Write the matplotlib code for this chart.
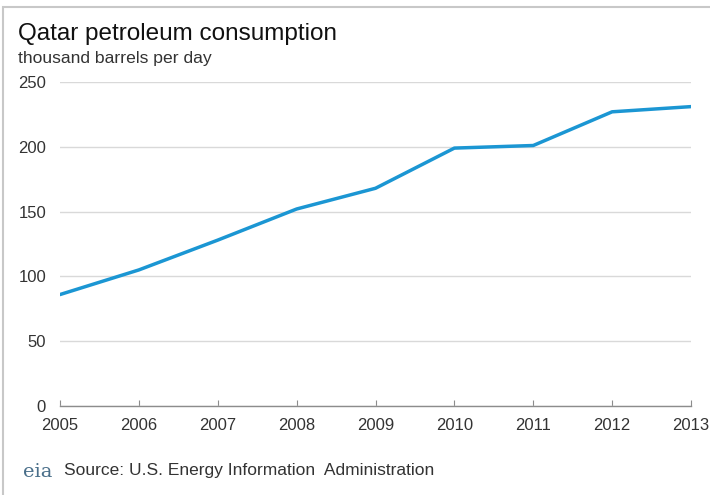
import matplotlib.pyplot as plt
from matplotlib.patches import Rectangle

years = [2005, 2006, 2007, 2008, 2009, 2010, 2011, 2012, 2013]
consumption = [86, 105, 128, 152, 168, 199, 201, 227, 231]
y_ticks = [0, 50, 100, 150, 200, 250]

plt.rcParams['font.family'] = ['Liberation Sans', 'DejaVu Sans']

W, H = 710, 495
fig = plt.figure(figsize=(W / 100, H / 100), dpi=100)
ax = fig.add_axes([60 / W, 1 - 406 / H, (691 - 60) / W, (406 - 82) / H])

ax.plot(years, consumption, color='#1b96d3', linewidth=2.5, solid_capstyle='round', zorder=3)

ax.set_xlim(2005, 2013)
ax.set_ylim(0, 250)
ax.set_xticks(years)
ax.set_yticks(y_ticks)
ax.yaxis.grid(True, color='#d9d9d9', linewidth=1)
ax.set_axisbelow(True)

for s in ['top', 'right', 'left']:
    ax.spines[s].set_visible(False)
ax.spines['bottom'].set_color('#8c8c8c')
ax.spines['bottom'].set_linewidth(1)

ax.tick_params(axis='x', direction='in', length=4, color='#8c8c8c', labelsize=12,
               labelcolor='#333333', pad=9)
ax.tick_params(axis='y', length=0, labelsize=12, labelcolor='#333333', pad=10)

# title block
fig.text(18 / W, 1 - 34 / H, 'Qatar petroleum consumption', fontsize=17.5,
         color='#111111', va='center', ha='left')
fig.text(18 / W, 1 - 58 / H, 'thousand barrels per day', fontsize=12.6,
         color='#333333', va='center', ha='left')

# source line
fig.text(23 / W, 1 - 472 / H, 'eia', fontsize=14, family='DejaVu Serif',
         color='#4a6f8a', va='center', ha='left')
fig.text(64 / W, 1 - 471 / H, 'Source: U.S. Energy Information  Administration',
         fontsize=12.5, color='#333333', va='center', ha='left')

# thin frame around the picture
fig.patches.append(Rectangle((3 / W, -0.01), 1.02, 1 - 2 / H, transform=fig.transFigure,
                             fill=False, edgecolor='#c8c8c8', linewidth=1.5))

fig.savefig('out.png', dpi=100)
